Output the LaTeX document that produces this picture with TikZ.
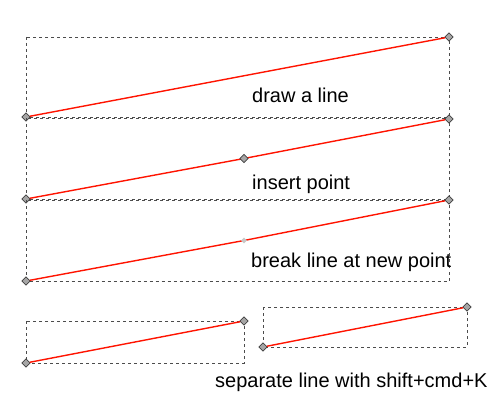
\documentclass[tikz,border=0pt]{standalone}
\usepackage{fontspec}
\setmainfont{Liberation Sans}
\usetikzlibrary{shapes.geometric}
\tikzset{
  handle/.style={diamond, draw=black!75, fill=black!35, inner sep=0pt, minimum size=8.5pt, line width=0.6pt},
  faint handle/.style={diamond, fill=black!22, inner sep=0pt, minimum size=6pt},
  seg/.style={draw=red!85!orange, line width=1.4pt},
  bbox/.style={draw=black!70, line width=0.6pt, dash pattern=on 3pt off 3pt},
  caption/.style={font=\fontsize{20}{24}\selectfont, inner sep=0pt}
}
\begin{document}
\begin{tikzpicture}[x=1pt,y=-1pt]
\useasboundingbox (0,0) rectangle (504,417);
% draw a line
\draw[bbox] (26,37) rectangle (449,117);
\node[handle] (a1) at (26,117) {};
\node[handle] (a2) at (449,37) {};
\draw[seg] (a1) -- (a2);
\node[caption, anchor=base] (t1) at (300.5,103) {draw a line};
% insert point
\draw[bbox] (26,118.5) rectangle (449,199);
\node[handle] (b1) at (26,199) {};
\node[handle] (b2) at (449,119) {};
\coordinate (bm) at (244,158.5);
\draw[seg] (b1) -- (bm) -- (b2);
\node[handle] (bm') at (bm) {};
\node[caption, anchor=base west] (t2) at (252,190) {insert point};
% break line at new point
\draw[bbox] (26,200.5) rectangle (449,281);
\node[handle] (c1) at (26,281) {};
\node[handle, draw=none, fill=none] (c2) at (449,200) {};
\coordinate (cm) at (244,240.5);
\draw[seg] (c1) -- (cm) -- (c2);
\node[handle] at (c2) {};
\node[faint handle] (cm') at (cm) {};
\node[caption, anchor=base west] (t3) at (251,268) {break line at new point};
% separate line with shift+cmd+K
\draw[bbox] (26,321) rectangle (244,363);
\node[handle] (d1) at (26,363) {};
\node[handle] (d2) at (244,321) {};
\draw[seg] (d1) -- (d2);
\draw[bbox] (263,307) rectangle (467,347);
\node[handle] (e1) at (263,347) {};
\node[handle] (e2) at (467,307) {};
\draw[seg] (e1) -- (e2);
\node[caption, anchor=base west] (t4) at (215,387) {separate line with shift+cmd+K};
\end{tikzpicture}
\end{document}
